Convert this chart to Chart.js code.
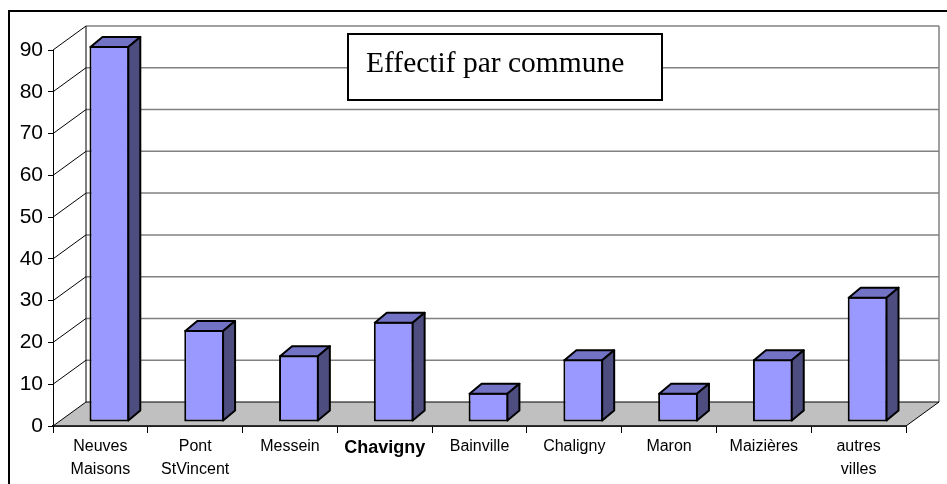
<!DOCTYPE html>
<html><head><meta charset="utf-8">
<script src="https://cdn.jsdelivr.net/npm/chart.js@4.4.1/dist/chart.umd.min.js"></script>
<style>html,body{margin:0;padding:0;background:#fff;overflow:hidden}#wrap{position:relative;width:947px;height:484px}</style>
</head><body><div id="wrap"><canvas id="c" width="947" height="484"></canvas></div>
<script>
// ---- data ----
const categories = [["Neuves","Maisons"],["Pont","StVincent"],"Messein","Chavigny","Bainville","Chaligny","Maron","Maizières",["autres","villes"]];
const effectifs = [90, 22, 16, 24, 7, 15, 7, 15, 30];
const yMin = 0, yMax = 90, yStep = 10;
const chartTitle = "Effectif par commune";
const boldCategory = "Chavigny";

// ---- style ----
const SANS = "'Liberation Sans', Arial, sans-serif";
const SERIF = "'Liberation Serif', 'Times New Roman', serif";
const WALL_DX = 33, WALL_DY = 24;     // back wall offset
const BAR_SHIFT_X = 9, BAR_SHIFT_Y = -4; // bar plane offset
const BAR_DX = 12, BAR_DY = 10;        // bar depth
const FRONT = '#9999FF', TOP = '#7373C6', SIDE = '#4D4D80';

const scene3d = {
  id: 'scene3d',
  beforeDraw(chart) {
    const ctx = chart.ctx;
    ctx.save();
    ctx.fillStyle = '#fff';
    ctx.fillRect(0, 0, chart.width, chart.height);
    ctx.strokeStyle = '#000'; ctx.lineWidth = 2;
    ctx.strokeRect(9, 11, chart.width + 40, chart.height + 40);
    ctx.restore();
  },
  beforeDatasetsDraw(chart) {
    const { ctx, chartArea: a, scales: { y } } = chart;
    const L = a.left, R = a.right, T = a.top, B = a.bottom;
    const bl = L + WALL_DX, br = R + WALL_DX, bt = T - WALL_DY, bb = B - WALL_DY;
    ctx.save();
    // floor
    ctx.fillStyle = '#C0C0C0';
    ctx.beginPath(); ctx.moveTo(L, B); ctx.lineTo(R, B); ctx.lineTo(br, bb); ctx.lineTo(bl, bb); ctx.closePath(); ctx.fill();
    // back wall gridlines + left wall diagonals
    y.ticks.forEach(t => {
      const py = y.getPixelForValue(t.value);
      if (t.value > yMin) {
        ctx.strokeStyle = '#808080'; ctx.lineWidth = 1.5;
        ctx.beginPath(); ctx.moveTo(bl, py - WALL_DY); ctx.lineTo(br, py - WALL_DY); ctx.stroke();
      }
      ctx.strokeStyle = '#000'; ctx.lineWidth = 1;
      ctx.beginPath(); ctx.moveTo(L, py); ctx.lineTo(bl, py - WALL_DY); ctx.stroke();
    });
    // back wall right edge
    ctx.strokeStyle = '#808080'; ctx.lineWidth = 1.5;
    ctx.beginPath(); ctx.moveTo(br, bt); ctx.lineTo(br, bb); ctx.stroke();
    // back wall left edge
    ctx.strokeStyle = '#000'; ctx.lineWidth = 1;
    ctx.beginPath(); ctx.moveTo(bl, bt); ctx.lineTo(bl, bb); ctx.stroke();
    // floor edges
    ctx.beginPath(); ctx.moveTo(bl, bb); ctx.lineTo(br, bb); ctx.lineTo(R, B); ctx.stroke();
    ctx.lineWidth = 1.5;
    ctx.beginPath(); ctx.moveTo(L, B); ctx.lineTo(R, B); ctx.stroke();
    ctx.restore();
    // shift bar plane
    ctx.save();
    ctx.translate(BAR_SHIFT_X, BAR_SHIFT_Y);
  },
  afterDatasetsDraw(chart) {
    const ctx = chart.ctx;
    const meta = chart.getDatasetMeta(0);
    ctx.lineWidth = 2; ctx.strokeStyle = '#000'; ctx.lineJoin = 'round';
    meta.data.forEach(bar => {
      const p = bar.getProps(['x', 'y', 'base', 'width'], true);
      const l = p.x - p.width / 2 + 1, r = p.x + p.width / 2 - 1, t = p.y + 1, b = p.base - 1;
      // top face
      ctx.fillStyle = TOP;
      ctx.beginPath(); ctx.moveTo(l, t); ctx.lineTo(l + BAR_DX, t - BAR_DY); ctx.lineTo(r + BAR_DX, t - BAR_DY); ctx.lineTo(r, t); ctx.closePath(); ctx.fill(); ctx.stroke();
      // side face
      ctx.fillStyle = SIDE;
      ctx.beginPath(); ctx.moveTo(r, t); ctx.lineTo(r + BAR_DX, t - BAR_DY); ctx.lineTo(r + BAR_DX, b - BAR_DY); ctx.lineTo(r, b); ctx.closePath(); ctx.fill(); ctx.stroke();
    });
    ctx.restore();
    // title box
    ctx.save();
    ctx.fillStyle = '#fff'; ctx.fillRect(347, 33, 316, 68);
    ctx.strokeStyle = '#000'; ctx.lineWidth = 2; ctx.strokeRect(348, 34, 314, 66);
    ctx.fillStyle = '#000'; ctx.font = '29.5px ' + SERIF; ctx.textBaseline = 'alphabetic'; ctx.textAlign = 'left';
    ctx.fillText(chartTitle, 366, 72);
    ctx.restore();
  }
};

const boldIndex = categories.indexOf(boldCategory);

new Chart(document.getElementById('c'), {
  type: 'bar',
  data: {
    labels: categories,
    datasets: [{
      data: effectifs,
      backgroundColor: FRONT,
      borderColor: '#000',
      borderWidth: 2,
      borderSkipped: false,
      categoryPercentage: 1,
      barPercentage: 0.42,
      clip: false
    }]
  },
  options: {
    responsive: false,
    devicePixelRatio: 1,
    animation: false,
    layout: { padding: { left: 0, top: 50, right: 41, bottom: 0 } },
    plugins: { legend: { display: false }, tooltip: { enabled: false }, title: { display: false } },
    scales: {
      x: {
        grid: { offset: true, drawOnChartArea: false, drawTicks: true, tickLength: 7, color: '#000', lineWidth: 1 },
        border: { display: true, color: '#000', width: 1.5 },
        ticks: {
          color: '#000', padding: 2, maxRotation: 0, minRotation: 0, autoSkip: false,
          font: (c) => c.index === boldIndex
            ? { family: SANS, size: 18, weight: 'bold', lineHeight: '27px' }
            : { family: SANS, size: 16, weight: 'normal', lineHeight: '23px' }
        },
        afterFit(s) { s.height = 58; }
      },
      y: {
        min: yMin, max: yMax,
        ticks: { stepSize: yStep, color: '#000', padding: 5, font: { family: SANS, size: 21 } },
        grid: { drawOnChartArea: false, drawTicks: true, tickLength: 5, color: '#000', lineWidth: 1 },
        border: { display: true, color: '#000', width: 1 },
        afterFit(s) { s.width = 53; }
      }
    }
  },
  plugins: [scene3d]
});
</script>
</body></html>
